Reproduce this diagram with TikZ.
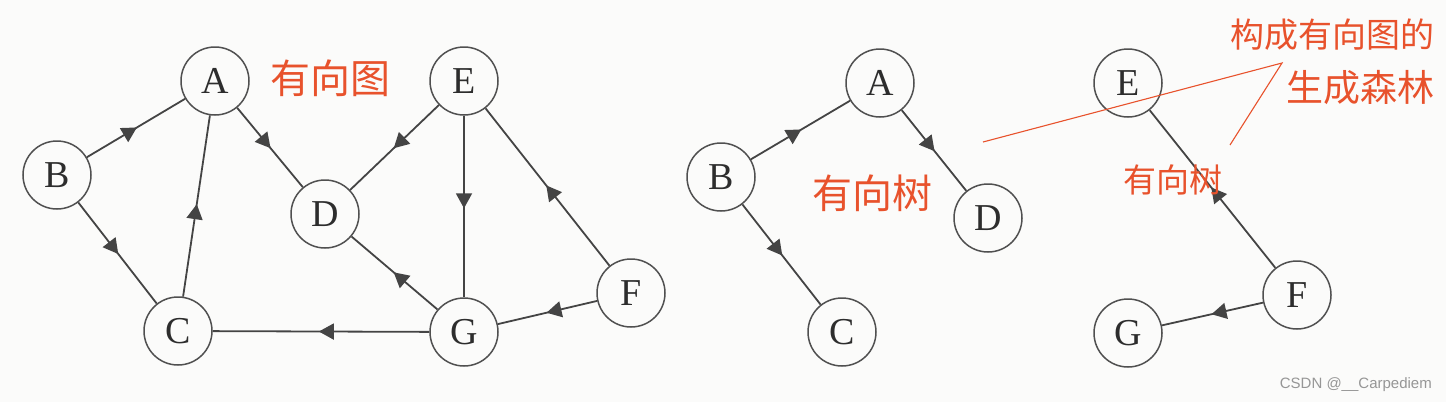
\documentclass[tikz,border=0pt]{standalone}
\usepackage{fontspec}
\setmainfont{Liberation Serif}
\newfontfamily\cjk{Noto Sans CJK SC}
\newfontfamily\wmfont{Liberation Sans}
\usetikzlibrary{arrows.meta,decorations.markings}
\definecolor{bg}{RGB}{251,251,250}
\definecolor{circ}{RGB}{80,80,80}
\definecolor{ln}{RGB}{68,68,68}
\definecolor{txt}{RGB}{45,45,45}
\definecolor{hand}{RGB}{232,82,44}
\definecolor{wmc}{RGB}{150,150,150}
\begin{document}
\begin{tikzpicture}[x=1pt,y=-1pt,
  vtx/.style={circle, draw=circ, line width=1.5pt, minimum size=68pt, inner sep=0pt,
    font=\fontsize{38}{38}\selectfont, text=txt},
  edg/.style={draw=ln, color=ln, line width=1.8pt, postaction={decorate},
    decoration={markings, mark=at position 0.51 with {\arrow{Triangle[length=15pt,width=16pt]}}}},
  handtext/.style={text=hand, inner sep=0pt},
  handline/.style={draw=hand, line width=1.1pt}]
\useasboundingbox[fill=bg] (0,0) rectangle (1446,402);

% left graph
\node[vtx] (A) at (215,81) {A};
\node[vtx] (B) at (57,175) {B};
\node[vtx] (C) at (178,331) {C};
\node[vtx] (D) at (325,214) {D};
\node[vtx] (E) at (464,81) {E};
\node[vtx] (G) at (464,332) {G};
\node[vtx] (F) at (631,293) {F};
\draw[edg] (B) -- (A);
\draw[edg] (B) -- (C);
\draw[edg] (C) -- (A);
\draw[edg] (A) -- (D);
\draw[edg] (E) -- (D);
\draw[edg] (E) -- (G);
\draw[edg] (F) -- (E);
\draw[edg] (G) -- (D);
\draw[edg] (G) -- (C);
\draw[edg] (F) -- (G);

% middle tree
\node[vtx] (A2) at (880,83) {A};
\node[vtx] (B2) at (721,177) {B};
\node[vtx] (C2) at (842,332) {C};
\node[vtx] (D2) at (988,218) {D};
\draw[edg] (B2) -- (A2);
\draw[edg] (A2) -- (D2);
\draw[edg] (B2) -- (C2);

% right tree
\node[vtx] (E3) at (1128,83) {E};
\node[vtx] (F3) at (1297,295) {F};
\node[vtx] (G3) at (1128,333) {G};
\draw[edg] (F3) -- (E3);
\draw[edg] (F3) -- (G3);

% handwritten annotations
\node[handtext, font=\cjk\fontsize{40}{40}\selectfont] (t1) at (330,78) {有向图};
\node[handtext, font=\cjk\fontsize{40}{40}\selectfont] (t2) at (872,193) {有向树};
\node[handtext, font=\cjk\fontsize{33}{33}\selectfont] (t3) at (1173,180) {有向树};
\node[handtext, font=\cjk\fontsize{34}{34}\selectfont] (t4) at (1332,35) {构成有向图的};
\node[handtext, font=\cjk\fontsize{37}{37}\selectfont] (t5) at (1360,88) {生成森林};
\coordinate (p1) at (983,142);
\coordinate (p2) at (1282,63);
\coordinate (p3) at (1230,145);
\draw[handline] (p1) -- (p2) -- (p3);

% watermark
\node[text=wmc, font=\wmfont\fontsize{15}{15}\selectfont, anchor=east, inner sep=0pt] (wm) at (1432,385) {CSDN @\_\_Carpediem};
\end{tikzpicture}
\end{document}
